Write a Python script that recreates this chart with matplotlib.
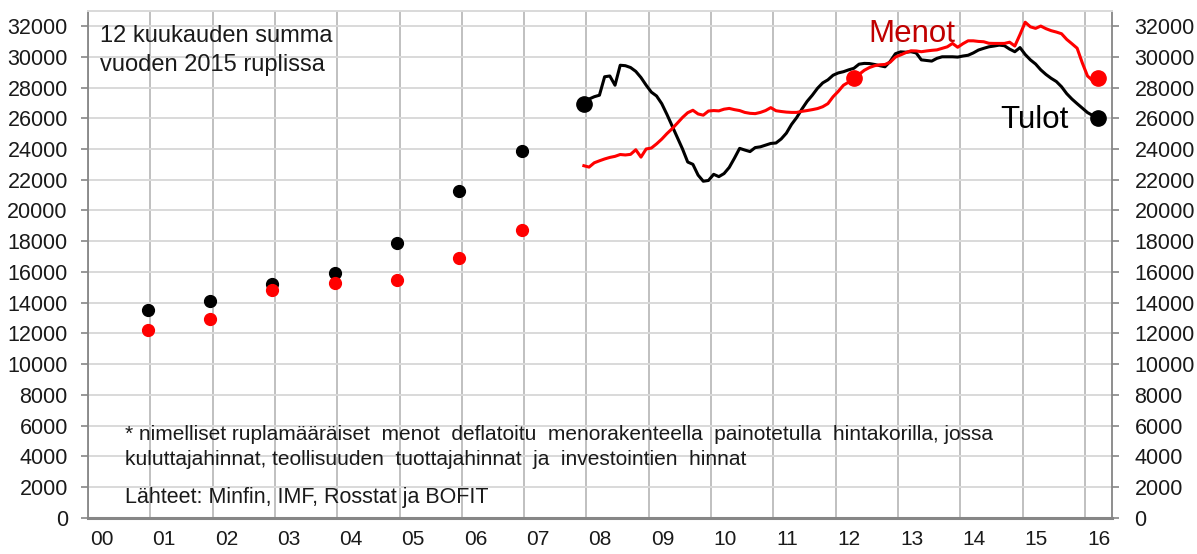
import numpy as np
import pandas as pd
import matplotlib
matplotlib.use("Agg")
import matplotlib.pyplot as plt

plt.rcParams['font.family'] = ['Liberation Sans', 'DejaVu Sans']

# ---------------- data ----------------
# annual 12-month sums (December of each year), roubles of 2015
annual_years = [2000, 2001, 2002, 2003, 2004, 2005, 2006]
annual_tulot = [13520, 14090, 15210, 15950, 17860, 21240, 23850]
annual_menot = [12220, 12910, 14820, 15260, 15470, 16900, 18740]

# monthly 12-month rolling sums, Dec 2007 .. Mar 2016
month_start = "2007-12-01"
tulot = [26900, 27250, 27400, 27500, 28700, 28750, 28150, 29450, 29420, 29300,
         29050, 28650, 28150, 27700, 27450, 26950, 26250, 25500, 24750, 24000,
         23150, 23000, 22300, 21900, 21950, 22350, 22200, 22400, 22800, 23400,
         24040, 23930, 23830, 24090, 24140, 24250, 24360, 24390, 24650, 25030,
         25600, 26050, 26600, 27100, 27500, 27950, 28300, 28500, 28800, 28950,
         29030, 29150, 29250, 29520, 29570, 29560, 29500, 29420, 29350, 29700,
         30200, 30320, 30300, 30330, 30250, 29800, 29760, 29720, 29900, 30000,
         30000, 30000, 29980, 30050, 30100, 30250, 30440, 30550, 30650, 30700,
         30760, 30720, 30500, 30330, 30600, 30150, 29800, 29530, 29150, 28850,
         28600, 28390, 28050, 27600, 27250, 26950, 26660, 26370, 26180, 25990]
menot = [22910, 22820, 23100, 23230, 23350, 23450, 23520, 23640, 23610, 23650,
         23950, 23470, 24000, 24060, 24330, 24640, 25000, 25320, 25680, 26050,
         26360, 26520, 26280, 26200, 26470, 26500, 26480, 26590, 26640, 26560,
         26500, 26380, 26320, 26300, 26380, 26500, 26690, 26490, 26440, 26400,
         26380, 26380, 26450, 26500, 26560, 26630, 26750, 26950, 27400, 27750,
         28150, 28350, 28600, 28850, 29120, 29300, 29420, 29480, 29500, 29650,
         29980, 30120, 30270, 30390, 30380, 30330, 30380, 30420, 30450, 30550,
         30650, 30870, 30620, 30850, 31040, 31040, 31000, 30980, 30880, 30870,
         30870, 30870, 30950, 30700, 31450, 32250, 31950, 31850, 32000, 31830,
         31700, 31610, 31500, 31130, 30850, 30560, 29600, 28750, 28450, 28650]
menot_highlight = "2012-04"

year_labels = ["00", "01", "02", "03", "04", "05", "06", "07", "08",
               "09", "10", "11", "12", "13", "14", "15", "16"]
y_ticks = list(range(0, 32001, 2000))

title_lines = ["12 kuukauden summa", "vuoden 2015 ruplissa"]
note_lines = ["* nimelliset ruplamääräiset  menot  deflatoitu  menorakenteella  painotetulla  hintakorilla, jossa",
              "kuluttajahinnat, teollisuuden  tuottajahinnat  ja  investointien  hinnat"]
source_text = "Lähteet: Minfin, IMF, Rosstat ja BOFIT"

# ---------------- helpers ----------------
def dec_year(d):
    return d.year + (d.month - 0.5) / 12.0

months = pd.date_range(month_start, periods=len(tulot), freq="MS")
xm = np.array([dec_year(d) for d in months])
xa = np.array([y + 11.5 / 12.0 for y in annual_years])
hl = pd.Timestamp(menot_highlight + "-01")
hl_idx = list(months).index(hl)

RED = "#FF0000"
GRID_H = "#D9D9D9"
GRID_V = "#C0C0C0"
AX = "#868686"
TXT = "#1a1a1a"
TICK_FS = 15.5

fig = plt.figure(figsize=(11.97, 5.54), dpi=100)
ax = fig.add_axes([88 / 1197, 1 - 517.7 / 554, (1111.7 - 88) / 1197, (517.7 - 10.7) / 554])

first_year = int(year_labels[0]) + 2000
ax.set_xlim(first_year, first_year + 16.43)
ax.set_ylim(0, 33000)

# grid
ax.set_xticks(np.arange(first_year, first_year + 17))
ax.set_xticks(np.arange(first_year, first_year + 17) + 0.22, minor=True)
ax.set_xticklabels([])
ax.set_xticklabels(year_labels, minor=True, fontsize=15, color=TXT)
ax.tick_params(axis="x", which="both", length=0, pad=9)
ax.set_yticks(y_ticks)
ax.set_yticklabels([str(v) for v in y_ticks], fontsize=TICK_FS, color=TXT)
ax.tick_params(axis="y", length=5, width=1.2, color=AX, pad=9.5, direction="out")
ax.grid(axis="y", color=GRID_H, lw=1.4, zorder=0)
ax.grid(axis="x", color=GRID_V, lw=1.4, zorder=0)
ax.set_axisbelow(True)

for s in ["left", "right"]:
    ax.spines[s].set_color(AX)
    ax.spines[s].set_linewidth(1.3)
ax.spines["bottom"].set_color(AX)
ax.spines["bottom"].set_linewidth(2.2)
ax.spines["top"].set_color(GRID_H)
ax.spines["top"].set_linewidth(1.4)

ax2 = ax.twinx()
ax2.set_ylim(ax.get_ylim())
ax2.set_yticks(y_ticks)
ax2.set_yticklabels([str(v) for v in y_ticks], fontsize=TICK_FS, color=TXT)
ax2.tick_params(axis="y", length=5, width=1.2, color=AX, pad=11.5, direction="out")
for s in ax2.spines.values():
    s.set_visible(False)

# data
ax.plot(xa, annual_tulot, "o", color="black", ms=8.5, zorder=4)
ax.plot(xa, annual_menot, "o", color=RED, ms=8.5, zorder=4)
ax.plot(xm, tulot, color="black", lw=2.2, zorder=3, solid_joinstyle="round")
ax.plot(xm, menot, color=RED, lw=2.2, zorder=3.5, solid_joinstyle="round")
ax.plot(xm[[0, -1]], [tulot[0], tulot[-1]], "o", color="black", ms=11, zorder=5)
ax.plot(xm[[hl_idx, -1]], [menot[hl_idx], menot[-1]], "o", color=RED, ms=11, zorder=5)

# texts
fig.text(100 / 1197, 1 - 42 / 554, title_lines[0], fontsize=17, color=TXT, va="baseline")
fig.text(100 / 1197, 1 - 71 / 554, title_lines[1], fontsize=17, color=TXT, va="baseline")
fig.text(125 / 1197, 1 - 440 / 554, note_lines[0], fontsize=15, color=TXT, va="baseline")
fig.text(125 / 1197, 1 - 465 / 554, note_lines[1], fontsize=15, color=TXT, va="baseline")
fig.text(125 / 1197, 1 - 502.7 / 554, source_text, fontsize=15.5, color=TXT, va="baseline")
fig.text(868 / 1197, 1 - 41.7 / 554, "Menot", fontsize=22.5, color="#C00000", va="baseline")
fig.text(1000 / 1197, 1 - 128 / 554, "Tulot", fontsize=22.5, color="black", va="baseline")

fig.savefig("out.png", dpi=100)
